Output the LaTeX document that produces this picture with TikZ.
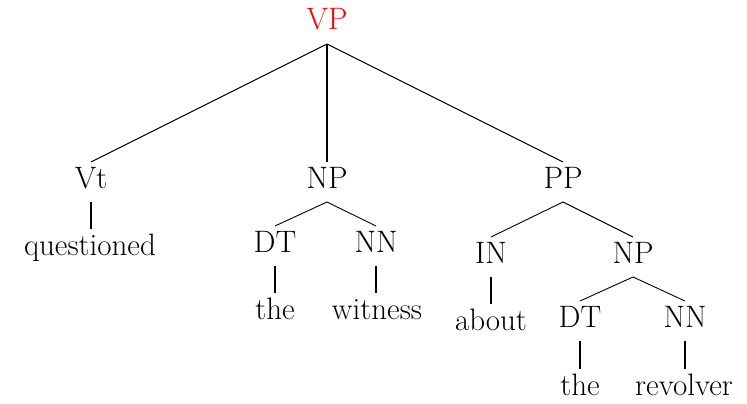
\documentclass[tikz,border=0pt]{standalone}
\usepackage{fontspec}
\begin{document}
\begin{tikzpicture}[x=1pt,y=-1pt,
  lbl/.style={anchor=base, inner sep=0pt, outer sep=0pt, text height=26pt, text depth=14pt,
    font=\fontsize{31}{36}\selectfont},
  edge/.style={line width=0.9pt, black},
  vedge/.style={line width=1.4pt, black}]
\useasboundingbox (0,0) rectangle (747,404);
\node[lbl, text=red] (VP) at (327,30) {VP};
\node[lbl] (Vt) at (91,188) {Vt};
\node[lbl] (NPa) at (327,188) {NP};
\node[lbl] (PP) at (563,188) {PP};
\node[lbl] (questioned) at (90,255) {questioned};
\node[lbl] (DTa) at (275,252) {DT};
\node[lbl] (NNa) at (376,252) {NN};
\node[lbl] (thea) at (275,319) {the};
\node[lbl] (witness) at (377,319) {witness};
\node[lbl] (IN) at (491,263) {IN};
\node[lbl] (NPb) at (633,263) {NP};
\node[lbl] (about) at (491,330) {about};
\node[lbl] (DTb) at (580,327) {DT};
\node[lbl] (NNb) at (685,327) {NN};
\node[lbl] (theb) at (580,395) {the};
\node[lbl] (revolver) at (684,395) {revolver};
\draw[edge] (VP.south) -- (Vt.north);
\draw[vedge] (VP.south) -- (NPa.north);
\draw[edge] (VP.south) -- (PP.north);
\draw[vedge] (Vt.south) -- (Vt.south |- questioned.north);
\draw[edge] (NPa.south) -- (DTa.north);
\draw[edge] (NPa.south) -- (NNa.north);
\draw[vedge] (DTa.south) -- (DTa.south |- thea.north);
\draw[vedge] (NNa.south) -- (NNa.south |- witness.north);
\draw[edge] (PP.south) -- (IN.north);
\draw[edge] (PP.south) -- (NPb.north);
\draw[vedge] (IN.south) -- (IN.south |- about.north);
\draw[edge] (NPb.south) -- (DTb.north);
\draw[edge] (NPb.south) -- (NNb.north);
\draw[vedge] (DTb.south) -- (DTb.south |- theb.north);
\draw[vedge] (NNb.south) -- (NNb.south |- revolver.north);
\end{tikzpicture}
\end{document}
